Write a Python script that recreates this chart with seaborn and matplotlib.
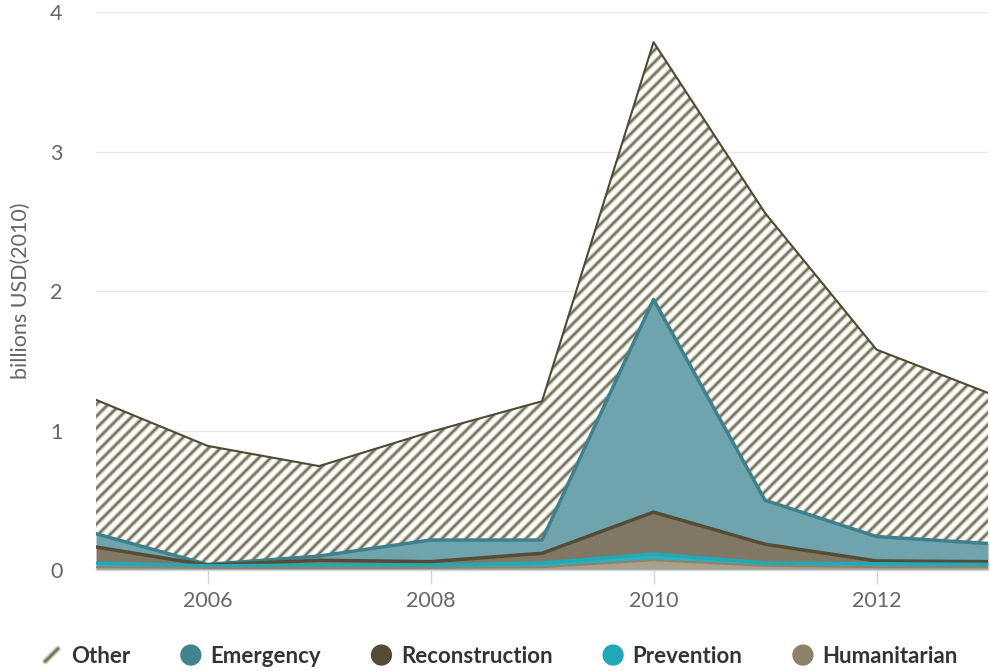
import numpy as np
import pandas as pd
import matplotlib
matplotlib.use("Agg")
import matplotlib.pyplot as plt
import matplotlib.patches as mpatches
from matplotlib.lines import Line2D
from matplotlib.collections import LineCollection
from matplotlib.legend_handler import HandlerPatch
import seaborn as sns

years = [2005, 2006, 2007, 2008, 2009, 2010, 2011, 2012, 2013]
humanitarian = [0.02, 0.015, 0.015, 0.015, 0.02, 0.07, 0.03, 0.02, 0.02]
prevention = [0.03, 0.015, 0.02, 0.02, 0.03, 0.045, 0.02, 0.025, 0.02]
reconstruction = [0.115, 0.005, 0.035, 0.025, 0.07, 0.30, 0.135, 0.02, 0.02]
emergency = [0.095, 0.005, 0.03, 0.155, 0.095, 1.525, 0.315, 0.175, 0.13]
other = [0.96, 0.85, 0.645, 0.775, 0.995, 1.845, 2.06, 1.34, 1.08]

series_names = ["Humanitarian", "Prevention", "Reconstruction", "Emergency", "Other"]
series_vals = [humanitarian, prevention, reconstruction, emergency, other]
fill_colors = ["#a9a18c", "#2fb0bd", "#807865", "#6fa4ae", "white"]
line_colors = ["#8c846c", "#22a9b8", "#544c35", "#3f808d", "#4f4a33"]
line_widths = [1.5, 2.5, 2.5, 2.5, 1.5]

sns.set_theme(style="white")
plt.rcParams["font.family"] = ["Lato", "DejaVu Sans"]

W, H = 990, 671
fig = plt.figure(figsize=(W / 100, H / 100), dpi=100)
ax = fig.add_axes([0.097, 0.1505, 0.901, 0.8315])
ax.set_xlim(2005, 2013)
ax.set_ylim(0, 4)

stripe_layers = [(5.0, "#dcdad1"), (3.0, "#a29e8b"), (1.3, "#6e6952")]

df = pd.DataFrame({"year": years})
base = np.zeros(len(years))
for name, vals, fc in zip(series_names, series_vals, fill_colors):
    top = base + np.array(vals)
    df[name] = top
    if name == "Other":
        coll = ax.fill_between(years, base, top, facecolor="white", linewidth=0, zorder=1)
        # diagonal stripe pattern clipped to the area
        px_x = 0.901 * W / 8.0
        px_y = 0.8315 * H / 4.0
        spacing = 12.0 / px_x
        k = px_x / px_y
        starts = np.arange(2005 - 4.0 / k - 1, 2013 + 1, spacing)
        segs = [[(s, 0), (s + 4.2 / k, 4.2)] for s in starts]
        for lw, col in stripe_layers:
            lc = LineCollection(segs, colors=col, linewidths=lw * 0.72, zorder=1.5)
            lc.set_clip_path(coll.get_paths()[0], ax.transData)
            ax.add_collection(lc)
    else:
        ax.fill_between(years, base, top, facecolor=fc, linewidth=0, zorder=2)
    base = top

for name, lc, lw in list(zip(series_names, line_colors, line_widths))[::-1]:
    sns.lineplot(data=df, x="year", y=name, ax=ax, color=lc, linewidth=lw, zorder=3)

ax.set_xlim(2005, 2013)
ax.set_ylim(0, 4)
ax.set_yticks([0, 1, 2, 3, 4])
ax.set_xticks([2006, 2008, 2010, 2012])
ax.yaxis.grid(True, color="#e6e6e6", linewidth=1)
ax.set_axisbelow(True)
for s in ["top", "right", "left"]:
    ax.spines[s].set_visible(False)
ax.spines["bottom"].set_color("#ccd6eb")
ax.spines["bottom"].set_linewidth(1)
ax.spines["bottom"].set_zorder(5)
ax.tick_params(axis="x", bottom=True, length=10, width=1, color="#ccd6eb",
               labelsize=15.5, labelcolor="#666666", pad=5)
ax.tick_params(axis="y", left=False, labelsize=15.5, labelcolor="#666666", pad=18)
ax.set_xlabel("")
ax.set_ylabel("billions USD(2010)", fontsize=15.5, color="#666666", labelpad=14)


class HandlerCircle(HandlerPatch):
    def create_artists(self, legend, orig_handle, xdescent, ydescent, width, height, fontsize, trans):
        r = min(width, height) * 0.6
        cx, cy = width / 2 - xdescent, height / 2 - ydescent
        if orig_handle.get_label() == "Other":
            arts = []
            d = r * 0.6
            for lw, col in stripe_layers:
                ln = Line2D([cx - d, cx + d], [cy - d, cy + d], color=col,
                            linewidth=lw * 0.9, solid_capstyle="round")
                ln.set_transform(trans)
                arts.append(ln)
            return arts
        c = mpatches.Ellipse((cx, cy), 2 * r, 2 * r)
        self.update_prop(c, orig_handle, legend)
        c.set_transform(trans)
        return [c]


leg_names = ["Other", "Emergency", "Reconstruction", "Prevention", "Humanitarian"]
leg_colors = ["white", "#41838f", "#554c35", "#1fa8b8", "#8b8268"]
handles = [mpatches.Patch(facecolor=c, edgecolor=c, linewidth=0, label=n)
           for n, c in zip(leg_names, leg_colors)]

leg = fig.legend(handles=handles, loc="center", bbox_to_anchor=(0.505, 0.022), ncol=5,
                 frameon=False, handler_map={mpatches.Patch: HandlerCircle()},
                 prop={"weight": "bold", "size": 16}, handlelength=0.85, handleheight=0.85,
                 handletextpad=0.45, columnspacing=2.3)
for t in leg.get_texts():
    t.set_color("#333333")

fig.savefig("out.png", dpi=100)
